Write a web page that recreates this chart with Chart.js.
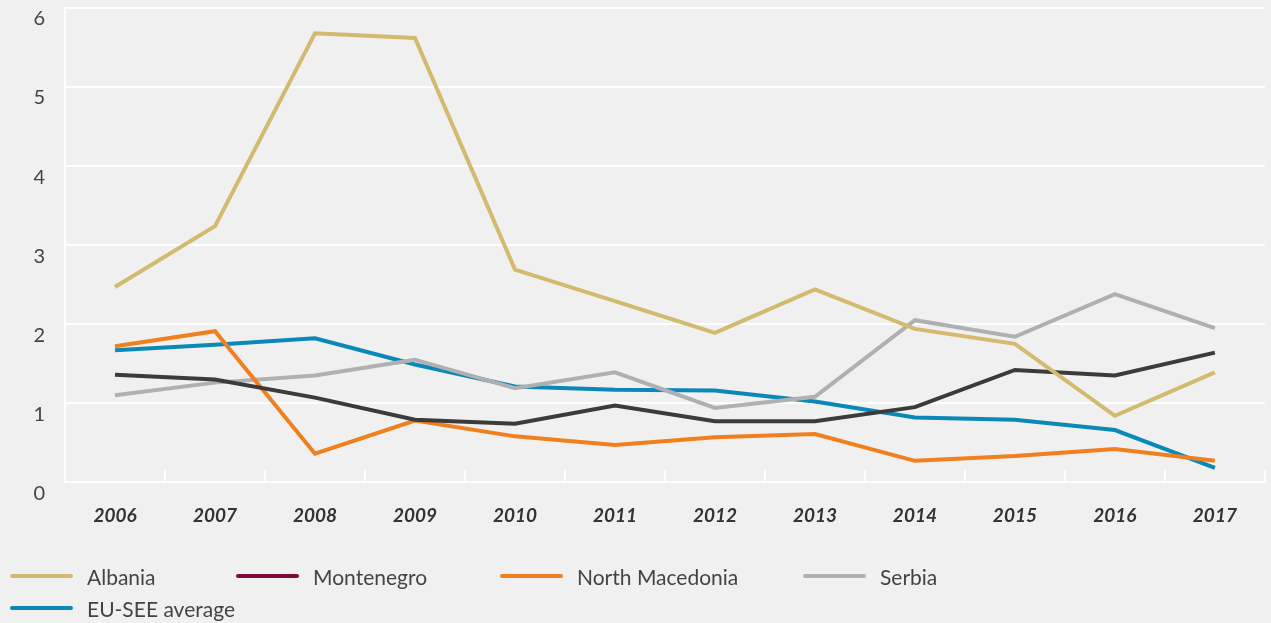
<!DOCTYPE html>
<html>
<head>
<meta charset="utf-8">
<script src="https://cdn.jsdelivr.net/npm/chart.js@4/dist/chart.umd.min.js"></script>
<style>
  html, body { margin: 0; padding: 0; background: #f0f0f0; }
  body { width: 1271px; height: 623px; overflow: hidden; position: relative; font-family: Lato, "Open Sans", sans-serif; }
  #wrap { position: absolute; left: 0; top: 0; width: 1271px; height: 578px; }
  #legend { position: absolute; left: 0; top: 0; width: 1271px; height: 623px; pointer-events: none; }
  .item { position: absolute; display: flex; align-items: center; height: 24px; }
  .swatch { width: 63px; height: 4px; border-radius: 2px; margin-right: 14px; }
  .label { font-size: 21px; color: #444; white-space: nowrap; }
</style>
</head>
<body>
<div id="wrap"><canvas id="c"></canvas></div>
<div id="legend"></div>
<script>
const years = ['2006','2007','2008','2009','2010','2011','2012','2013','2014','2015','2016','2017'];
const albania    = [2.47, 3.24, 5.68, 5.62, 2.69, 2.29, 1.89, 2.44, 1.94, 1.75, 0.84, 1.39];
const montenegro = [1.36, 1.30, 1.07, 0.79, 0.74, 0.97, 0.77, 0.77, 0.95, 1.42, 1.35, 1.64];
const northMacedonia = [1.72, 1.91, 0.36, 0.78, 0.58, 0.47, 0.57, 0.61, 0.27, 0.33, 0.42, 0.27];
const serbia     = [1.10, 1.26, 1.35, 1.55, 1.19, 1.39, 0.94, 1.08, 2.05, 1.84, 2.38, 1.95];
const euSee      = [1.67, 1.74, 1.82, 1.49, 1.21, 1.17, 1.16, 1.02, 0.82, 0.79, 0.66, 0.18];
const seriesNames = ['Albania', 'Montenegro', 'North Macedonia', 'Serbia', 'EU-SEE average'];
const yTicks = [0, 1, 2, 3, 4, 5, 6];

const lineColors = ['#d2ba6e', '#3b3b3b', '#f07f1d', '#aeb0b2', '#0a88b8'];
const legendColors = ['#d2ba6e', '#7a0b3a', '#f07f1d', '#aeb0b2', '#0a88b8'];
const seriesData = [albania, montenegro, northMacedonia, serbia, euSee];

const datasets = seriesNames.map((name, i) => ({
  label: name,
  data: seriesData[i],
  borderColor: lineColors[i],
  backgroundColor: lineColors[i],
  borderWidth: 4,
  pointRadius: 0,
  tension: 0,
  fill: false
}));

new Chart(document.getElementById('c'), {
  type: 'line',
  data: { labels: years, datasets },
  options: {
    responsive: true,
    maintainAspectRatio: false,
    animation: false,
    events: [],
    layout: { padding: { top: 8, right: 2, bottom: 17, left: 0 } },
    plugins: { legend: { display: false }, tooltip: { enabled: false } },
    scales: {
      x: {
        type: 'category',
        offset: true,
        grid: { display: true, drawOnChartArea: false, drawTicks: true, tickLength: -12, color: '#ffffff', lineWidth: 2, offset: true },
        border: { display: true, color: '#ffffff', width: 2 },
        ticks: { padding: 34, color: '#333', font: { family: 'Lato', size: 19, weight: 'bold', style: 'italic' }, maxRotation: 0, autoSkip: false }
      },
      y: {
        min: 0, max: 6,
        afterBuildTicks: (s) => { s.ticks = yTicks.map(v => ({ value: v })); },
        afterFit: (s) => { s.width = 65; s.paddingTop = 0; s.paddingBottom = 0; },
        grid: { color: '#ffffff', lineWidth: 2, drawTicks: false },
        border: { display: true, color: '#ffffff', width: 2 },
        ticks: { padding: 20, labelOffset: 11, color: '#444', font: { family: 'Lato', size: 20 } }
      }
    }
  }
});

// HTML legend
const legendPos = [[10, 564], [236, 564], [500, 564], [803, 564], [10, 596]];
const lg = document.getElementById('legend');
seriesNames.forEach((name, i) => {
  const it = document.createElement('div');
  it.className = 'item';
  it.style.left = legendPos[i][0] + 'px';
  it.style.top = legendPos[i][1] + 'px';
  const sw = document.createElement('div');
  sw.className = 'swatch';
  sw.style.background = legendColors[i];
  const tx = document.createElement('span');
  tx.className = 'label';
  tx.textContent = name;
  it.appendChild(sw); it.appendChild(tx);
  lg.appendChild(it);
});
</script>
</body>
</html>
